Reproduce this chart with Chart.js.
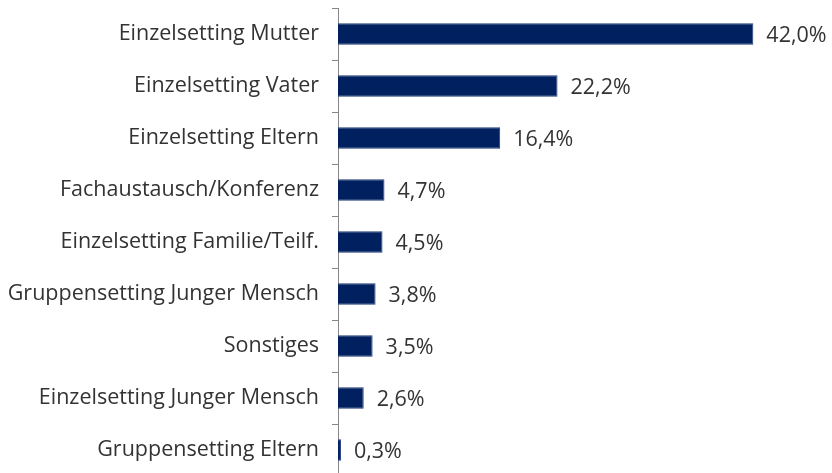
<!DOCTYPE html>
<html>
<head>
<meta charset="utf-8">
<script src="https://cdn.jsdelivr.net/npm/chart.js@4/dist/chart.umd.min.js"></script>
<style>
  html, body { margin: 0; padding: 0; background: #fff; overflow: hidden; }
  #wrap { width: 832px; height: 476px; }
</style>
</head>
<body>
<div id="wrap"><canvas id="chart"></canvas></div>
<script>
const categories = [
    "Einzelsetting Mutter",
    "Einzelsetting Vater",
    "Einzelsetting Eltern",
    "Fachaustausch/Konferenz",
    "Einzelsetting Familie/Teilf.",
    "Gruppensetting Junger Mensch",
    "Sonstiges",
    "Einzelsetting Junger Mensch",
    "Gruppensetting Eltern"
];
const shares = [42.0, 22.2, 16.4, 4.7, 4.5, 3.8, 3.5, 2.6, 0.3];

const fmt = v => v.toFixed(1).replace(".", ",") + "%";
const labelFont = "'Open Sans', sans-serif";
const fontSize = 21.5;

// draws the percentage next to each bar end
const valueLabels = {
    id: "valueLabels",
    afterDatasetsDraw(chart) {
        const ctx = chart.ctx;
        const meta = chart.getDatasetMeta(0);
        ctx.save();
        ctx.font = fontSize + "px " + labelFont;
        ctx.fillStyle = "#333333";
        ctx.textBaseline = "middle";
        ctx.textAlign = "left";
        meta.data.forEach((bar, i) => {
            ctx.fillText(fmt(shares[i]), bar.x + 13, bar.y + 2);
        });
        ctx.restore();
    }
};

const ctx = document.getElementById("chart").getContext("2d");
new Chart(ctx, {
    type: "bar",
    data: {
        labels: categories,
        datasets: [{
            data: shares,
            backgroundColor: "#002060",
            borderColor: "#1f3a7a",
            borderWidth: 1,
            categoryPercentage: 1.0,
            barPercentage: 0.41
        }]
    },
    options: {
        indexAxis: "y",
        responsive: true,
        maintainAspectRatio: false,
        animation: false,
        layout: { padding: { top: 8, right: 49, left: 0, bottom: 0 } },
        scales: {
            x: {
                display: false,
                min: 0,
                max: 45
            },
            y: {
                offset: true,
                border: { display: true, color: "#868686", width: 1 },
                grid: {
                    offset: true,
                    drawOnChartArea: false,
                    drawTicks: true,
                    tickLength: 6,
                    color: "#868686"
                },
                ticks: {
                    color: "#333333",
                    padding: 13,
                    font: { family: labelFont, size: fontSize }
                },
                afterFit(scale) {
                    scale.width = 338;
                    scale.paddingTop = 0;
                    scale.paddingBottom = 0;
                }
            }
        },
        plugins: {
            legend: { display: false },
            tooltip: { enabled: false }
        }
    },
    plugins: [valueLabels]
});
</script>
</body>
</html>
